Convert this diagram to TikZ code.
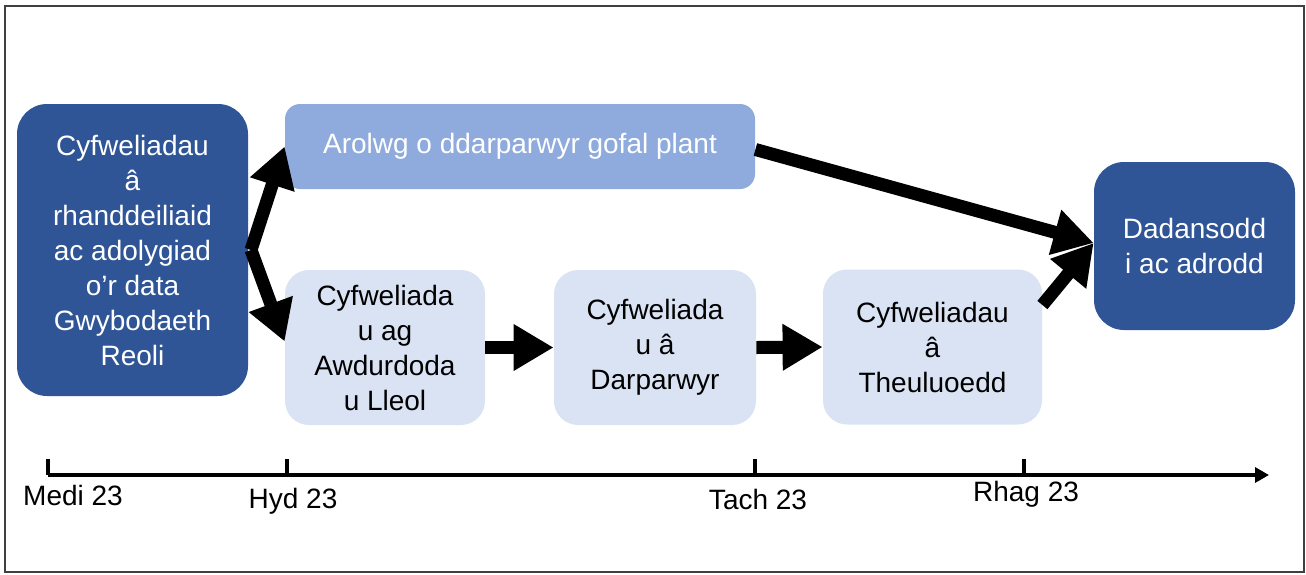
\documentclass[tikz,border=0pt]{standalone}
\usepackage{fontspec}
\setmainfont{Liberation Sans}
\usepackage{tikz}
\usetikzlibrary{arrows.meta, calc, positioning}
\definecolor{darkblue}{HTML}{2F5597}
\definecolor{midblue}{HTML}{8FAADC}
\definecolor{paleblue}{HTML}{DAE3F3}

\begin{document}
\begin{tikzpicture}[x=0.5pt, y=-0.5pt, >=Latex, font=\fontsize{14}{17.5}\selectfont,
  darkbox/.style={fill=darkblue, text=white, rounded corners=15pt, align=center, inner sep=0pt},
  palebox/.style={fill=paleblue, text=black, rounded corners=12pt, align=center, inner sep=0pt, minimum height=77.5pt},
  blockarrow/.style={line width=6.5pt, -{Triangle[length=20pt, width=22pt]}},
  tickmark/.style={line width=2pt},
  datelabel/.style={font=\fontsize{14}{16}\selectfont}]
\useasboundingbox (0,0) rectangle (1306,574);
\draw[black!75, line width=1pt] (5,6) rectangle (1304,572);

% boxes
\node[darkbox, minimum width=115.5pt, minimum height=146pt] (mgmt) at (132.5,250) {Cyfweliadau\\â\\rhanddeiliaid\\ac adolygiad\\o’r data\\Gwybodaeth\\Reoli};
\node[fill=midblue, text=white, rounded corners=7.5pt, inner sep=0pt, minimum width=235pt, minimum height=42.5pt] (survey) at (520,146.5) {Arolwg o ddarparwyr gofal plant};
\node[palebox, minimum width=100pt] (council) at (385,347.5) {Cyfweliada\\u ag\\Awdurdoda\\u Lleol};
\node[palebox, minimum width=101pt] (provider) at (655,347.5) {Cyfweliada\\u â\\Darparwyr};
\node[palebox, minimum width=109.5pt] (family) at (932.5,347) {Cyfweliadau\\â\\Theuluoedd};
\node[darkbox, minimum width=100.5pt, minimum height=84pt] (report) at (1194.5,246) {Dadansodd\\i ac adrodd};

% arrows
\coordinate (split) at (251,250);
\draw[blockarrow] (split) -- (survey.west);
\draw[blockarrow] (split) -- ($(council.west)+(0,-6)$);
\draw[blockarrow] (council.east) -- (provider.west);
\draw[blockarrow] (provider.east) -- (family.west);
\draw[blockarrow] ($(survey.east)+(0,3)$) -- ($(report.west)+(0,-3)$);
\draw[blockarrow] ($(family.east)+(0,-42)$) -- ($(report.west)+(0,-3)$);

% timeline
\coordinate (tstart) at (48,475);
\coordinate (tend) at (1269,475);
\draw[line width=1.6pt, -{Triangle[length=7pt, width=7.5pt]}] (tstart) -- (tend);
\draw[tickmark] (48,475) -- (48,459);
\draw[tickmark] (287,475) -- (287,459);
\draw[tickmark] (755,475) -- (755,459);
\draw[tickmark] (1024,475) -- (1024,459);
\node[datelabel] (sep) at (73,495) {Medi 23};
\node[datelabel] (oct) at (293,501) {Hyd 23};
\node[datelabel] (nov) at (758,499) {Tach 23};
\node[datelabel] (dec) at (1026,494) {Rhag 23};
\end{tikzpicture}
\end{document}
